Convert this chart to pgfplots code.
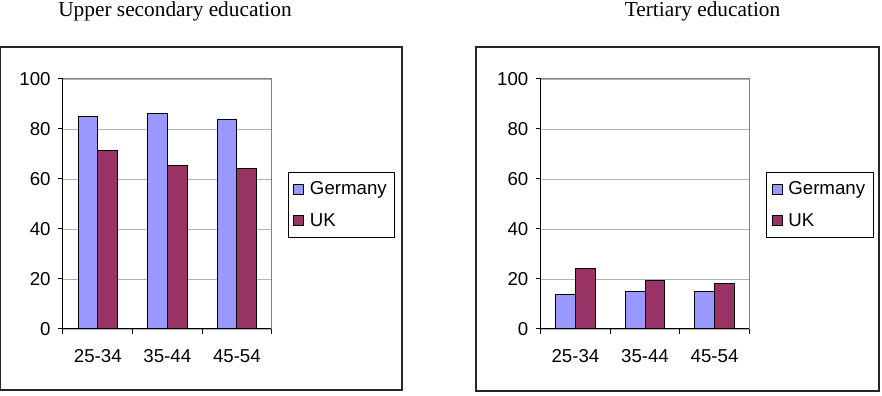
\documentclass[border=0pt]{standalone}
\usepackage{fontspec}
\setmainfont{Liberation Sans}
\newfontfamily\titlefont{Liberation Serif}
\usepackage{pgfplots}
\pgfplotsset{compat=1.18}
\definecolor{ger}{HTML}{9999FF}
\definecolor{uk}{HTML}{993366}
\pgfplotsset{
  panel/.style={
    scale only axis, width=156.5pt, height=187.5pt, anchor=south west,
    ymin=0, ymax=100, ytick={0,20,...,100},
    xmin=-0.5, xmax=2.5, xtick={0,1,2}, xticklabels={25-34,35-44,45-54},
    minor xtick={-0.5,0.5,1.5,2.5},
    major x tick style={draw=none},
    axis x line*=bottom, axis y line*=left,
    axis line style={black, line width=0.75pt, -},
    tick align=outside, major tick length=3.75pt, minor tick length=3.75pt,
    tick style={black, line width=0.75pt},
    ymajorgrids, grid style={color=black!30, line width=0.6pt},
    ybar=0pt, bar width=14.8pt,
    tick label style={font=\fontsize{14}{16}\selectfont},
    /pgf/number format/assume math mode=true,
    xticklabel style={yshift=-8pt},
    yticklabel style={xshift=-2pt},
    legend style={anchor=north west, draw=black, line width=0.75pt,
      font=\fontsize{14}{16}\selectfont, row sep=8.5pt, inner xsep=4pt, inner ysep=5pt},
    legend cell align=left,
    after end axis/.code={\draw[black!50, line width=0.75pt] (rel axis cs:0,1) -- (rel axis cs:1,1) -- (rel axis cs:1,0);},
  },
  sq/.style={legend image code/.code={\draw[##1, draw=black, line width=0.75pt] (0pt,-3.75pt) rectangle (7.5pt,3.75pt); \path[draw=none, fill=none] (0pt,0pt) -- (10pt,0pt);}},
}
\begin{document}
\begin{tikzpicture}
\useasboundingbox (0,0) rectangle (661.5pt,297pt);
\draw[line width=1.1pt, black!85] (0.55pt,4.5pt) rectangle (301.5pt,261.75pt);
\draw[line width=1.1pt, black!85] (357pt,3.75pt) rectangle (659.25pt,261.75pt);
\node[font=\titlefont\fontsize{16}{19}\selectfont, anchor=base] at (131.25pt,284.25pt) {Upper secondary education};
\node[font=\titlefont\fontsize{16}{19}\selectfont, anchor=base] at (526.9pt,284.25pt) {Tertiary education};
\begin{axis}[panel, at={(47.25pt,50.25pt)}, legend style={at={(1.0766,0.628)}}]
\addplot[sq, fill=ger, draw=black, line width=0.75pt] coordinates {(0,85.1) (1,86.3) (2,83.8)};
\addplot[sq, fill=uk, draw=black, line width=0.75pt] coordinates {(0,71.4) (1,65.4) (2,64.2)};
\legend{Germany,UK}
\end{axis}
\begin{axis}[panel, at={(405.5pt,50.25pt)}, legend style={at={(1.080,0.628)}}]
\addplot[sq, fill=ger, draw=black, line width=0.75pt] coordinates {(0,13.8) (1,15.0) (2,15.0)};
\addplot[sq, fill=uk, draw=black, line width=0.75pt] coordinates {(0,24.0) (1,19.3) (2,18.0)};
\legend{Germany,UK}
\end{axis}
\end{tikzpicture}
\end{document}
